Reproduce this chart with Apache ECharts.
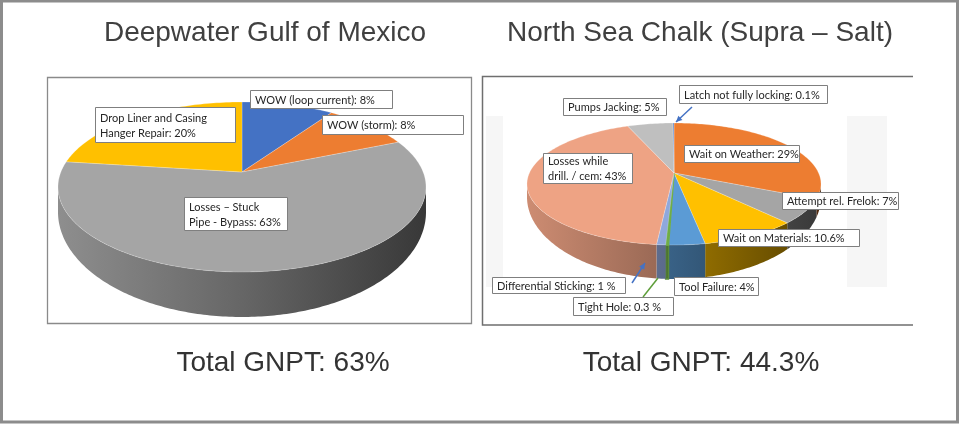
<!DOCTYPE html>
<html>
<head>
<meta charset="utf-8">
<title>GNPT breakdown</title>
<script src="https://cdn.jsdelivr.net/npm/echarts@6/dist/echarts.min.js"></script>
<style>
    html, body { margin: 0; padding: 0; background: #fff; }
    #chart { width: 960px; height: 424px; }
</style>
</head>
<body>
<div id="chart"></div>
<script>
    // ---- data ----
    var titles = ['Deepwater Gulf of Mexico', 'North Sea Chalk (Supra – Salt)'];
    var totalGnpt = [63, 44.3];

    var gomNames = ['WOW (loop current)', 'WOW (storm)', 'Losses – Stuck\nPipe - Bypass', 'Drop Liner and Casing\nHanger Repair'];
    var gomValues = [8, 8, 63, 20];

    var nsNames = ['Wait on Weather', 'Attempt rel. Frelok', 'Wait on Materials', 'Tool Failure', 'Tight Hole',
        'Differential Sticking', 'Losses while\ndrill. / cem', 'Pumps Jacking', 'Latch not fully locking'];
    var nsValues = [29, 7, 10.6, 4, 0.3, 1, 43, 5, 0.1];
    var nsUnits = ['%', '%', '%', '%', ' %', ' %', '%', '%', '%'];

    // ---- styles / layout ----
    var gomColors = ['#4472C4', '#ED7D31', '#A5A5A5', '#FFC000'];
    var nsColors = ['#ED7D31', '#A5A5A5', '#FFC000', '#5B9BD5', '#70AD47', '#8FA8DC', '#EEA384', '#BFBFBF', '#4472C4'];
    var gomThin = [0, 0, 0, 0];
    var nsThin = [0, 0, 0, 0, 1.6, 0, 0, 0, 0];

    var gomGeo = { cx: 242, cy: 187, rx: 184, ry: 85, lift: 15, d0: 25, d1: 20 };
    var nsGeo = { cx: 674, cy: 184, rx: 147, ry: 61, lift: 11, d0: 13, d1: 21 };

    // label boxes [x, y, w, h], same order as the data
    var gomBoxes = [[250, 90, 142, 18], [322, 115, 141, 19], [184, 197, 103, 33], [95, 107, 140, 35]];
    var nsBoxes = [[684, 145, 115, 17], [782, 192, 116, 17], [718, 229, 141, 17], [674, 277, 84, 18],
        [573, 297, 100, 18], [492, 277, 133, 16], [543, 153, 89, 30], [563, 98, 103, 17], [679, 85, 148, 18]];

    var chart = echarts.init(document.getElementById('chart'));

    function shade(hex, k) {
        var n = parseInt(hex.slice(1), 16);
        var r = Math.round(((n >> 16) & 255) * k);
        var g = Math.round(((n >> 8) & 255) * k);
        var b = Math.round((n & 255) * k);
        return 'rgb(' + r + ',' + g + ',' + b + ')';
    }

    function pieSeries(values, colors, thin, geo) {
        var total = values.reduce(function (a, b) { return a + b; }, 0);
        function depth(t) { return geo.d0 + geo.d1 * Math.max(0, -Math.cos(t)); }
        function arc(a0, a1, low) {
            var n = Math.max(2, Math.ceil(Math.abs(a1 - a0) / (Math.PI / 180)));
            var pts = [];
            for (var k = 0; k <= n; k++) {
                var t = a0 + (a1 - a0) * k / n;
                pts.push([geo.cx + geo.rx * Math.sin(t), geo.cy - geo.ry * Math.cos(t) + (low ? depth(t) : 0)]);
            }
            return pts;
        }
        return {
            type: 'custom',
            coordinateSystem: 'none',
            silent: true,
            animation: false,
            data: values,
            renderItem: function (params, api) {
                var i = params.dataIndex, before = 0;
                for (var k = 0; k < i; k++) before += values[k];
                var a0 = before / total * 2 * Math.PI;
                var a1 = (before + api.value(0)) / total * 2 * Math.PI;
                var c = colors[i];
                var children = [];
                var s0 = Math.max(a0, Math.PI / 2), s1 = Math.min(a1, 3 * Math.PI / 2);
                if (s1 > s0) {
                    children.push({
                        type: 'polygon',
                        shape: { points: arc(s0, s1, false).concat(arc(s1, s0, true)) },
                        style: {
                            fill: new echarts.graphic.LinearGradient(geo.cx - geo.rx, 0, geo.cx + geo.rx, 0, [
                                { offset: 0, color: shade(c, 0.86) },
                                { offset: 0.5, color: shade(c, 0.62) },
                                { offset: 1, color: shade(c, 0.34) }
                            ], true),
                            stroke: thin[i] ? shade(c, 0.8) : null,
                            lineWidth: thin[i] || 0
                        }
                    });
                }
                children.push({
                    type: 'polygon',
                    shape: { points: [[geo.cx, geo.cy - geo.lift]].concat(arc(a0, a1, false)) },
                    style: {
                        fill: c,
                        stroke: thin[i] ? c : 'rgba(255,255,255,0.45)',
                        lineWidth: thin[i] || 0.5
                    }
                });
                return { type: 'group', children: children };
            }
        };
    }

    function labelBox(b, text) {
        return [{
            type: 'rect', z: 20,
            shape: { x: b[0] + 0.5, y: b[1] + 0.5, width: b[2], height: b[3] },
            style: { fill: '#fff', stroke: '#7f7f7f', lineWidth: 1 }
        }, {
            type: 'text', z: 21,
            style: {
                text: text, x: b[0] + 5, y: b[1] + b[3] / 2 + 1, verticalAlign: 'middle',
                font: '11px Lato', fill: '#262626', lineHeight: 15
            }
        }];
    }

    function leader(p0, p1, color, arrow) {
        var els = [{
            type: 'line', z: 22,
            shape: { x1: p0[0], y1: p0[1], x2: p1[0], y2: p1[1] },
            style: { stroke: color, lineWidth: 1.5 }
        }];
        if (arrow) {
            var dx = p1[0] - p0[0], dy = p1[1] - p0[1], L = Math.sqrt(dx * dx + dy * dy);
            var ux = dx / L, uy = dy / L;
            els.push({
                type: 'polygon', z: 22,
                shape: { points: [p1, [p1[0] - ux * 6 - uy * 3, p1[1] - uy * 6 + ux * 3], [p1[0] - ux * 6 + uy * 3, p1[1] - uy * 6 - ux * 3]] },
                style: { fill: color }
            });
        }
        return els;
    }

    var elements = [
        // outer frame
        { type: 'rect', shape: { x: 1.5, y: 1, width: 956, height: 421 }, style: { fill: 'none', stroke: '#8c8c8c', lineWidth: 3 } },
        // left panel
        { type: 'rect', shape: { x: 47.5, y: 77.5, width: 424, height: 246 }, style: { fill: 'none', stroke: '#8a8a8a', lineWidth: 1.3 } },
        // right panel (open on the right)
        { type: 'polyline', shape: { points: [[913, 76.5], [482.5, 76.5], [482.5, 325], [913, 325]] }, style: { fill: 'none', stroke: '#6f6f6f', lineWidth: 1.5 } },
        { type: 'rect', shape: { x: 486, y: 116, width: 17, height: 171 }, style: { fill: '#f6f6f6' } },
        { type: 'rect', shape: { x: 847, y: 116, width: 40, height: 171 }, style: { fill: '#f6f6f6' } },
        // titles
        { type: 'text', style: { text: titles[0], x: 265, y: 33, align: 'center', verticalAlign: 'middle', font: '28px "Liberation Sans"', fill: '#404040' } },
        { type: 'text', style: { text: titles[1], x: 700, y: 33, align: 'center', verticalAlign: 'middle', font: '28px "Liberation Sans"', fill: '#404040' } },
        // totals
        { type: 'text', style: { text: 'Total GNPT: ' + totalGnpt[0] + '%', x: 283, y: 363, align: 'center', verticalAlign: 'middle', font: '28px "Liberation Sans"', fill: '#333' } },
        { type: 'text', style: { text: 'Total GNPT: ' + totalGnpt[1] + '%', x: 701, y: 363, align: 'center', verticalAlign: 'middle', font: '28px "Liberation Sans"', fill: '#333' } }
    ];

    gomNames.forEach(function (n, i) {
        elements = elements.concat(labelBox(gomBoxes[i], n + ': ' + gomValues[i] + '%'));
    });
    nsNames.forEach(function (n, i) {
        elements = elements.concat(labelBox(nsBoxes[i], n + ': ' + nsValues[i] + nsUnits[i]));
    });
    elements = elements
        .concat(leader([692, 107], [676, 122], '#4472C4', true))
        .concat(leader([632, 283], [645, 263], '#4472C4', true))
        .concat(leader([643, 297], [658, 278], '#5E9E3A', false));

    chart.setOption({
        animation: false,
        graphic: { elements: elements },
        series: [
            pieSeries(gomValues, gomColors, gomThin, gomGeo),
            pieSeries(nsValues, nsColors, nsThin, nsGeo)
        ]
    });
</script>
</body>
</html>
